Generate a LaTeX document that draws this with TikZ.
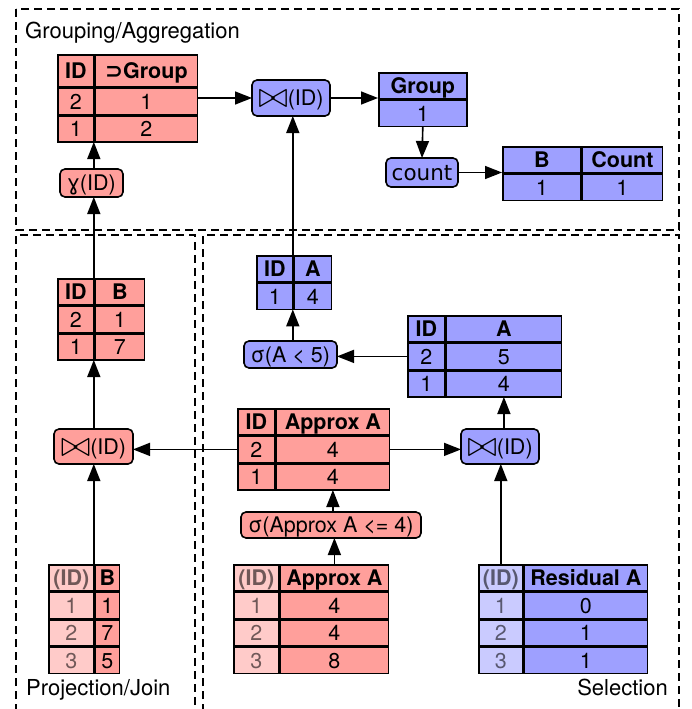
\documentclass[tikz,border=0pt]{standalone}
\usepackage{graphicx}
\usepackage{fontspec}
\setmainfont{TeX Gyre Heros}
\newfontfamily\symf{DejaVu Sans}
\usetikzlibrary{matrix,arrows.meta}

\definecolor{pinkfill}{HTML}{FF9F9B}
\definecolor{pinklight}{HTML}{FFCBC9}
\definecolor{bluefill}{HTML}{9EA0FF}
\definecolor{bluelight}{HTML}{CACBFF}
\definecolor{pinkgray}{HTML}{705858}
\definecolor{bluegray}{HTML}{585870}

% outlined bow-tie join symbol, about as tall as a capital letter
\newcommand{\joinsym}{\raisebox{-2.2pt}{\scalebox{1.75}{$\bowtie$}}}

\tikzset{
  basefont/.style={font=\fontsize{21.5}{26}\selectfont},
  cell/.style={draw, line width=1.6pt, inner sep=0pt, outer sep=0pt,
    minimum height=26pt, text height=15.5pt, text depth=0pt, basefont},
  tbl/.style={matrix of nodes, inner sep=0pt, outer sep=0pt,
    row sep=0pt, column sep=0pt, anchor=north west, nodes={cell},
    row 1/.style={nodes={font=\fontsize{21.5}{26}\selectfont\bfseries}}},
  pinktbl/.style={tbl, nodes={fill=pinkfill}},
  bluetbl/.style={tbl, nodes={fill=bluefill}},
  cw1/.style={column 1/.style={nodes={minimum width=#1}}},
  cw2/.style={column 2/.style={nodes={minimum width=#1}}},
  op/.style={draw, line width=1.6pt, rounded corners=5pt, inner sep=0pt,
    outer sep=0pt, text height=15.5pt, text depth=0pt, basefont},
  arr/.style={line width=1.6pt, -{Triangle[length=17pt,width=13pt]}},
  frame/.style={line width=1.4pt, dash pattern=on 8pt off 5pt},
  label/.style={font=\fontsize{22}{26}\selectfont, inner sep=0pt}
}

\begin{document}
\begin{tikzpicture}[x=1pt, y=-1pt]
\useasboundingbox (0,0) rectangle (692,709);

% group frames
\draw[frame] (16,9) rectangle (679,230);
\draw[frame] (16,712) -- (16,235) -- (195,235) -- (195,712);
\draw[frame] (203,712) -- (203,235) -- (679,235) -- (679,712);

\node[label, anchor=base west] (lgrp) at (25,39) {Grouping/Aggregation};
\node[label, anchor=base west] (lproj) at (26,695) {Projection/Join};
\node[label, anchor=base east] (lsel) at (668,695) {Selection};

% ---- grouping / aggregation
\matrix (t1) [pinktbl, cw1=36pt, cw2=102pt,
  row 1/.append style={nodes={minimum height=32pt}}] at (57,54)
  {ID & {\symf ⊃}Group \\ 2 & 1 \\ 1 & 2 \\};
\node[op, fill=pinkfill, minimum width=63pt, minimum height=28pt] (gam) at (91.5,183) {{\symf ɣ}(ID)};
\node[op, fill=bluefill, minimum width=78pt, minimum height=36pt] (jt) at (291,98) {\joinsym(ID)};
\matrix (grp) [bluetbl, cw1=88pt] at (378,72) {Group \\ 1 \\};
\node[op, fill=bluefill, minimum width=72pt, minimum height=29pt] (cnt) at (422,172.5) {\symf count};
\matrix (bc) [bluetbl, cw1=78pt, cw2=80pt] at (502,146) {B & Count \\ 1 & 1 \\};

% ---- projection / join
\matrix (tIDB) [pinktbl, cw1=36pt, cw2=49pt] at (57,278) {ID & B \\ 2 & 1 \\ 1 & 7 \\};
\node[op, fill=pinkfill, minimum width=79pt, minimum height=35pt] (pj) at (93.5,446.5) {\joinsym(ID)};
\matrix (bB) [pinktbl, cw1=45pt, cw2=24pt,
  column 1/.append style={nodes={fill=pinklight, text=pinkgray}}] at (48,564)
  {(ID) & B \\ 1 & 1 \\ 2 & 7 \\ 3 & 5 \\};

% ---- selection
\matrix (tA2) [bluetbl, cw1=36pt, cw2=37pt] at (256,255) {ID & A \\ 1 & 4 \\};
\node[op, fill=bluefill, minimum width=93pt, minimum height=27pt] (sA) at (290.5,354.5) {σ(A < 5)};
\matrix (tA3) [bluetbl, cw1=37pt, cw2=115pt] at (407,315) {ID & A \\ 2 & 5 \\ 1 & 4 \\};
\matrix (tAp) [pinktbl, cw1=37pt, cw2=113pt] at (237,408) {ID & Approx A \\ 2 & 4 \\ 1 & 4 \\};
\node[op, fill=bluefill, minimum width=78pt, minimum height=35pt] (jr) at (500,446.5) {\joinsym(ID)};
\node[op, fill=pinkfill, minimum width=180pt, minimum height=26pt] (sAp) at (331,525) {σ(Approx A <= 4)};
\matrix (bAp) [pinktbl, cw1=45pt, cw2=108pt,
  column 1/.append style={nodes={fill=pinklight, text=pinkgray}}] at (233,564)
  {(ID) & Approx A \\ 1 & 4 \\ 2 & 4 \\ 3 & 8 \\};
\matrix (bRes) [bluetbl, cw1=44pt, cw2=123pt,
  column 1/.append style={nodes={fill=bluelight, text=bluegray}}] at (478,564)
  {(ID) & Residual A \\ 1 & 0 \\ 2 & 1 \\ 3 & 1 \\};

% ---- connectors
\draw[arr] (t1.east |- jt) -- (jt.west);
\draw[arr] (jt.east) -- (jt.east -| grp.west);
\draw[arr] (grp.south) -- (cnt.north);
\draw[arr] (cnt.east) -- (cnt.east -| bc.west);
\draw[arr] (gam.north -| t1-3-1.south east) -- (t1-3-1.south east);
\draw[arr] (tIDB-1-1.north east) -- (tIDB-1-1.north east |- gam.south);
\draw[arr] (pj.north -| tIDB-3-1.south east) -- (tIDB-3-1.south east);
\draw[arr] (bB-1-1.north east) -- (bB-1-1.north east |- pj.south);
\draw[arr] (tAp.west) -- (tAp.west -| pj.east);
\draw[arr] (tAp.east) -- (tAp.east -| jr.west);
\draw[arr] (jr.north -| tA3-3-2.south) -- (tA3-3-2.south);
\draw[arr] (tA3.west) -- (tA3.west -| sA.east);
\draw[arr] (sA.north -| tA2-2-1.south east) -- (tA2-2-1.south east);
\draw[arr] (tA2-1-1.north east) -- (tA2-1-1.north east |- jt.south);
\draw[arr] (sAp.north -| tAp-3-2.south) -- (tAp-3-2.south);
\draw[arr] (bAp-1-2.north) -- (bAp-1-2.north |- sAp.south);
\draw[arr] (bRes-1-1.north) -- (bRes-1-1.north |- jr.south);
\end{tikzpicture}
\end{document}
